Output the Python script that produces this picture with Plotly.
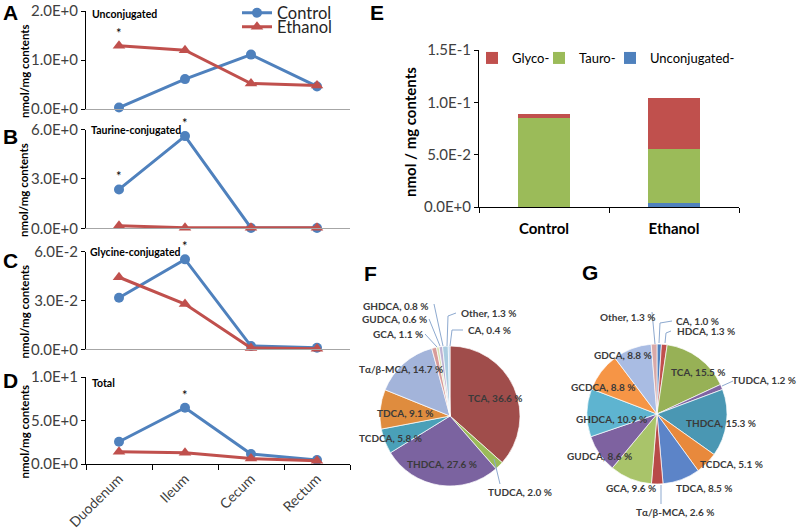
import plotly.graph_objects as go

# ---------------- data ----------------
regions = ["Duodenum", "Ileum", "Cecum", "Rectum"]

unconj_control = [0.03, 0.61, 1.11, 0.46]
unconj_ethanol = [1.29, 1.20, 0.52, 0.48]
tauro_control = [2.36, 5.60, 0.02, 0.02]
tauro_ethanol = [0.15, 0.04, 0.03, 0.03]
glyco_control = [0.0317, 0.0553, 0.0020, 0.0010]
glyco_ethanol = [0.0443, 0.0278, 0.0008, 0.0003]
total_control = [2.56, 6.47, 1.15, 0.46]
total_ethanol = [1.41, 1.30, 0.62, 0.38]

ytick_A = [0, 1.0, 2.0]
ytext_A = ["0.0E+0", "1.0E+0", "2.0E+0"]
ytick_B = [0, 3.0, 6.0]
ytext_B = ["0.0E+0", "3.0E+0", "6.0E+0"]
ytick_C = [0, 0.03, 0.06]
ytext_C = ["0.0E+0", "3.0E-2", "6.0E-2"]
ytick_D = [0, 5.0, 10.0]
ytext_D = ["0.0E+0", "5.0E+0", "1.0E+1"]

# significance: (panel, series, region)
sig_marks = [("A", "Ethanol", "Duodenum"), ("B", "Control", "Duodenum"),
             ("B", "Control", "Ileum"), ("C", "Control", "Ileum"),
             ("D", "Control", "Ileum")]

groups = ["Control", "Ethanol"]
bar_unconj = [0.0003, 0.0035]
bar_tauro = [0.0850, 0.0516]
bar_glyco = [0.0032, 0.0487]
bar_ytick = [0, 0.05, 0.10, 0.15]
bar_ytext = ["0.0E+0", "5.0E-2", "1.0E-1", "1.5E-1"]

f_labels = ["TCA", "TUDCA", "THDCA", "TCDCA", "TDCA", "Tα/β-MCA", "GCA",
            "GUDCA", "GHDCA", "Other", "CA"]
f_values = [36.6, 2.0, 27.6, 5.8, 9.1, 14.7, 1.1, 0.6, 0.8, 1.3, 0.4]
g_labels = ["CA", "HDCA", "TCA", "TUDCA", "THDCA", "TCDCA", "TDCA", "Tα/β-MCA",
            "GCA", "GUDCA", "GHDCA", "GCDCA", "GDCA", "Other"]
g_values = [1.0, 1.3, 15.5, 1.2, 15.3, 5.1, 8.5, 2.6, 9.6, 8.6, 10.9, 8.8, 8.8, 1.3]

# ---------------- styling ----------------
W, H = 799, 531
FONT = "Lato"
BLUE = "#4F81BD"
RED = "#C0504D"
TICKC = "#404040"


def px(x):
    return x / W


def py(y):
    return 1 - y / H


f_colors = ["#A04D4B", "#9BBB59", "#7B63A0", "#4AA0B8", "#DF8C3E", "#A3B4DA",
            "#D89B99", "#D7E2B5", "#BFB2D2", "#A9CCE0", "#B3CDE8"]
g_colors = ["#4F81BD", "#C0504D", "#97B156", "#8064A2", "#4A97B3", "#E8893C",
            "#5C84C8", "#B84A48", "#A9C46A", "#7E62A0", "#5EB4D0", "#F69546",
            "#A9BCE3", "#D9A9A8"]

fig = go.Figure()

panels = [
    ("A", "", unconj_control, unconj_ethanol, 2.0, ytick_A, ytext_A, (109, 11)),
    ("B", "2", tauro_control, tauro_ethanol, 6.0, ytick_B, ytext_B, (228.3, 129.5)),
    ("C", "3", glyco_control, glyco_ethanol, 0.06, ytick_C, ytext_C, (349.3, 251.7)),
    ("D", "4", total_control, total_ethanol, 10.0, ytick_D, ytext_D, (464, 377)),
]

layout_axes = {}
annotations = []
for name, suf, ctl, eth, top, tv, tt, (ybot, ytop) in panels:
    xa = "x" + suf
    ya = "y" + suf
    first = name == "A"
    fig.add_trace(go.Scatter(
        x=regions, y=ctl, name="Control", mode="lines+markers",
        line=dict(color=BLUE, width=3), marker=dict(symbol="circle", size=10, color=BLUE),
        xaxis=xa, yaxis=ya, cliponaxis=False, showlegend=first,
        legend="legend"))
    fig.add_trace(go.Scatter(
        x=regions, y=eth, name="Ethanol", mode="lines+markers",
        line=dict(color=RED, width=3), marker=dict(symbol="triangle-up", size=11, color=RED),
        xaxis=xa, yaxis=ya, cliponaxis=False, showlegend=first,
        legend="legend3"))
    is_d = name == "D"
    layout_axes["xaxis" + suf] = dict(
        domain=[px(86), px(350)], anchor=ya, type="category", automargin=False,
        range=[-0.5, 3.5], showline=True,
        linecolor="#000000" if is_d else "#A6A6A6", linewidth=1,
        showgrid=False, zeroline=False,
        showticklabels=is_d, ticks="outside" if is_d else "",
        tickson="boundaries", ticklen=5, tickcolor="#000000",
        tickangle=-45, tickfont=dict(family=FONT, size=14, color=TICKC),
    )
    layout_axes["yaxis" + suf] = dict(
        domain=[py(ybot), py(ytop)], anchor=xa, range=[0, top], automargin=False,
        showline=True, linecolor="#000000", linewidth=1, showgrid=False,
        zeroline=False, ticks="outside", ticklen=4, tickcolor="#000000",
        tickvals=tv, ticktext=tt, tickfont=dict(family=FONT, size=15, color=TICKC),
    )
    # axis title
    annotations.append(dict(
        text="<b>nmol/mg contents</b>", textangle=-90, xref="paper", yref="paper",
        x=px(24), y=py((ybot + ytop) / 2 + 11), showarrow=False,
        font=dict(family=FONT, size=11.5, color="#000000"),
        xanchor="center", yanchor="middle"))

# panel subtitles
for txt, x0, yc in [("Unconjugated", 90, 14), ("Taurine-conjugated", 89, 130),
                    ("Glycine-conjugated", 88, 252), ("Total", 90, 383)]:
    annotations.append(dict(text="<b>%s</b>" % txt, xref="paper", yref="paper",
                            x=px(x0), y=py(yc), xanchor="left", yanchor="middle",
                            showarrow=False, font=dict(family=FONT, size=10.5, color="#000000")))

# significance asterisks
panel_map = {p[0]: p for p in panels}
for pname, series, reg in sig_marks:
    p = panel_map[pname]
    vals = p[2] if series == "Control" else p[3]
    i = regions.index(reg)
    annotations.append(dict(text="*", x=reg, y=vals[i], xref="x" + p[1], yref="y" + p[1],
                            showarrow=False, yshift=13, yanchor="middle",
                            font=dict(family=FONT, size=13, color="#000000")))

# panel letters
for letter, x0, yc in [("A", 1, 12), ("B", 1, 136), ("C", 1, 260), ("D", 1, 380),
                       ("E", 368, 12), ("F", 362, 273), ("G", 580, 272)]:
    annotations.append(dict(text="<b>%s</b>" % letter, xref="paper", yref="paper",
                            x=px(x0), y=py(yc), xanchor="left", yanchor="middle",
                            showarrow=False,
                            font=dict(family="Liberation Sans", size=21, color="#000000")))

# ---------------- bar chart E ----------------
for name, vals, col, leg in [("Unconjugated-", bar_unconj, BLUE, "legend4"),
                             ("Tauro-", bar_tauro, "#9BBB59", "legend5"),
                             ("Glyco-", bar_glyco, RED, "legend2")]:
    fig.add_trace(go.Bar(x=groups, y=vals, name=name, marker=dict(color=col, line=dict(width=0)),
                         width=0.4, xaxis="x5", yaxis="y5", legend=leg))

layout_axes["xaxis5"] = dict(
    domain=[px(479), px(739)], anchor="y5", type="category", range=[-0.5, 1.5],
    automargin=False,
    showline=True, linecolor="#000000", showgrid=False, zeroline=False,
    ticks="outside", tickson="boundaries", ticklen=5, tickcolor="#000000",
    ticklabelstandoff=8,
    tickfont=dict(family=FONT, size=15, color="#000000"),
    tickvals=groups, ticktext=["<b>%s</b>" % g for g in groups])
layout_axes["yaxis5"] = dict(
    domain=[py(207), py(50)], anchor="x5", range=[0, 0.15], automargin=False,
    showline=True, linecolor="#000000", showgrid=False, zeroline=False,
    ticks="outside", ticklen=4, tickcolor="#000000",
    tickvals=bar_ytick, ticktext=bar_ytext,
    tickfont=dict(family=FONT, size=15, color=TICKC))
annotations.append(dict(
    text="<b>nmol / mg contents</b>", textangle=-90, xref="paper", yref="paper",
    x=px(410), y=py(132), showarrow=False, xanchor="center", yanchor="middle",
    font=dict(family=FONT, size=15, color="#000000")))

# ---------------- pies ----------------
fig.add_trace(go.Pie(values=f_values, labels=f_labels, sort=False, direction="clockwise",
                     rotation=0, textinfo="none", showlegend=False, automargin=False,
                     marker=dict(colors=f_colors, line=dict(color="#FFFFFF", width=0.7)),
                     domain=dict(x=[px(380), px(520)], y=[py(486), py(346)])))
fig.add_trace(go.Pie(values=g_values, labels=g_labels, sort=False, direction="clockwise",
                     rotation=0, textinfo="none", showlegend=False, automargin=False,
                     marker=dict(colors=g_colors, line=dict(color="#FFFFFF", width=0.7)),
                     domain=dict(x=[px(587), px(727)], y=[py(484), py(344)])))

# pie label placement (pixel centres)
f_label_pos = {"GHDCA": (396, 306), "GUDCA": (394, 319), "GCA": (398, 334),
               "Other": (488, 313), "CA": (489, 330), "Tα/β-MCA": (401, 369),
               "TCA": (495, 398), "TDCA": (405, 413), "TCDCA": (390, 438),
               "THDCA": (442, 464), "TUDCA": (520, 492)}
g_label_pos = {"Other": (627, 317), "CA": (697, 321), "HDCA": (706, 331),
               "GDCA": (623, 355), "TCA": (698, 372), "TUDCA": (764, 380),
               "GCDCA": (603, 387), "GHDCA": (611, 419), "THDCA": (721, 423),
               "GUDCA": (599, 456), "TCDCA": (731, 464), "GCA": (631, 488),
               "TDCA": (704, 488), "Tα/β-MCA": (675, 512)}
for labs, vals, pos in [(f_labels, f_values, f_label_pos), (g_labels, g_values, g_label_pos)]:
    for lab, v in zip(labs, vals):
        cx, cy = pos[lab]
        annotations.append(dict(text="<b>%s, %.1f %%</b>" % (lab, v), xref="paper", yref="paper",
                                x=px(cx), y=py(cy), xanchor="center", yanchor="middle",
                                showarrow=False,
                                font=dict(family=FONT, size=10, color="#3A3A3A")))

leader_lines = [
    [(434, 304), (443, 346)], [(429, 319), (440, 346)], [(425, 334), (437, 347)],
    [(456, 313), (448, 316), (447, 346)], [(463, 330), (452, 330), (450, 346)],
    [(494, 459), (500, 484)],
    [(652, 312), (655, 344)], [(672, 321), (660, 323), (659, 343)],
    [(671, 331), (666, 333), (665, 343)], [(733, 381), (722, 386)],
    [(661, 485), (661, 504)],
]
shapes = []
for pts in leader_lines:
    for (x0, y0), (x1, y1) in zip(pts[:-1], pts[1:]):
        shapes.append(dict(type="line", xref="paper", yref="paper",
                           x0=px(x0), y0=py(y0), x1=px(x1), y1=py(y1),
                           line=dict(color="#8DA9CF", width=1)))

bar_leg = dict(y=py(58), xanchor="left", yanchor="middle", orientation="h",
               bgcolor="rgba(0,0,0,0)", itemwidth=30,
               font=dict(family=FONT, size=13, color="#000000"))
line_leg = dict(xanchor="left", yanchor="middle", bgcolor="rgba(0,0,0,0)",
                font=dict(family=FONT, size=16.5, color="#262626"),
                itemwidth=30, borderwidth=0)

fig.update_layout(
    width=W, height=H, margin=dict(l=0, r=0, t=0, b=0, autoexpand=False),
    paper_bgcolor="#FFFFFF", plot_bgcolor="rgba(0,0,0,0)",
    font=dict(family=FONT, color="#000000"),
    barmode="stack",
    annotations=annotations, shapes=shapes,
    legend=dict(x=px(237), y=py(13), **line_leg),
    legend3=dict(x=px(237), y=py(27), **line_leg),
    legend2=dict(x=px(472), **bar_leg),
    legend5=dict(x=px(539), **bar_leg),
    legend4=dict(x=px(610), **bar_leg),
    **layout_axes,
)

fig.write_html("out.html", config={"displayModeBar": False},
               post_script="document.body.style.margin='0';document.body.style.overflow='hidden';")
